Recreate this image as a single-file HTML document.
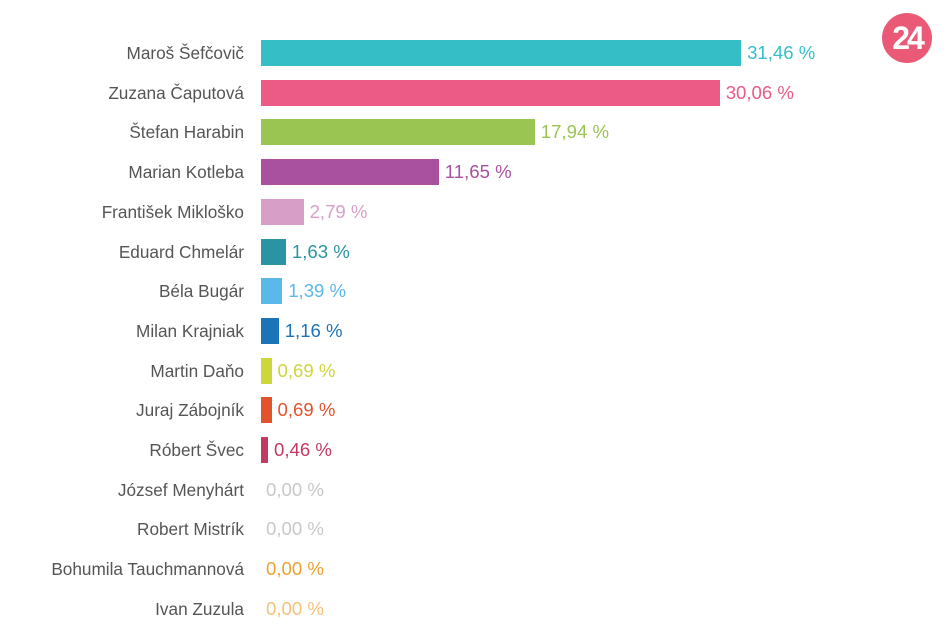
<!DOCTYPE html>
<html><head><meta charset="utf-8"><style>
body{margin:0;background:#fff;width:950px;height:640px;overflow:hidden;font-family:"Liberation Sans",Arial,sans-serif;position:relative}
.r{position:absolute;left:0;height:26px;width:950px}
.n{position:absolute;right:706px;top:3px;font-size:17.2px;color:#555;white-space:nowrap}
.b{position:absolute;left:261px;top:0;height:26px}
.v{position:absolute;top:2px;font-size:18.6px;white-space:nowrap}
.logo{position:absolute;left:882px;top:13px;width:50px;height:50px;border-radius:50%;background:#ea5a76;color:#fff;font-weight:bold;font-size:32px;text-align:center;line-height:50px;letter-spacing:-3px}
</style></head><body>
<div class="logo">24</div>
<div id="c"></div>
<script>
var d=[["Maroš Šefčovič",31.46,"#36bec6"],["Zuzana Čaputová",30.06,"#ec5a86"],["Štefan Harabin",17.94,"#9ac553"],["Marian Kotleba",11.65,"#a9519f"],["František Mikloško",2.79,"#d79fc8"],["Eduard Chmelár",1.63,"#2a95a2"],["Béla Bugár",1.39,"#5ab9e8"],["Milan Krajniak",1.16,"#1b74b8"],["Martin Daňo",0.69,"#cdd63a"],["Juraj Zábojník",0.69,"#e2532d"],["Róbert Švec",0.46,"#c23a5f"],["József Menyhárt",0,"#c8c8c8"],["Robert Mistrík",0,"#c8c8c8"],["Bohumila Tauchmannová",0,"#f0a030"],["Ivan Zuzula",0,"#f5c07a"]];
var h="";d.forEach(function(e,i){var w=e[1]*15.26,t=40+i*39.7;
h+='<div class="r" style="top:'+t+'px"><div class="n">'+e[0]+'</div><div class="b" style="width:'+w+'px;background:'+e[2]+'"></div><div class="v" style="left:'+(261+w+(w>0?6:5))+'px;color:'+e[2]+'">'+e[1].toFixed(2).replace(".",",")+' %</div></div>';});
document.getElementById("c").innerHTML=h;
</script>
</body></html>
